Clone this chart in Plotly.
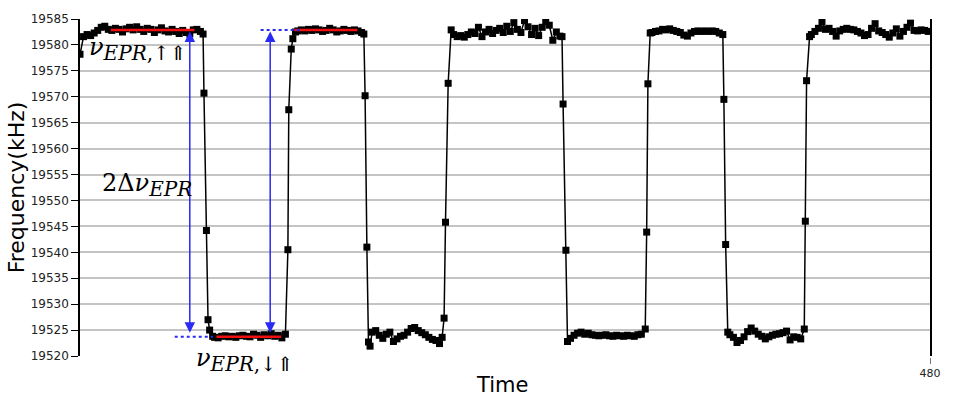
import plotly.graph_objects as go

# ---------------- data (time in samples, frequency in kHz) ----------------
t_high1 = list(range(0, 70, 2))
f_high1 = [19578.2, 19581.6, 19582.0, 19581.8, 19582.3, 19582.8, 19583.4, 19583.6, 19583.0, 19582.8,
           19583.2, 19583.0, 19582.5, 19583.1, 19583.4, 19582.9, 19583.5, 19583.0, 19582.6, 19583.2,
           19583.0, 19582.4, 19582.9, 19583.3, 19582.7, 19582.5, 19583.0, 19582.6, 19582.2, 19582.8,
           19582.4, 19582.1, 19582.9, 19583.0, 19582.6]
t_fall1 = [69.5, 70.0, 71.4, 72.3, 73.2, 74.9]
f_fall1 = [19582.1, 19570.7, 19544.2, 19527.0, 19525.0, 19523.8]
t_low1 = list(range(76, 118, 2))
f_low1 = [19523.6, 19523.5, 19523.8, 19523.9, 19523.7, 19523.8, 19523.6, 19523.9, 19524.0, 19523.8,
          19523.7, 19524.2, 19524.0, 19523.6, 19524.1, 19523.9, 19524.3, 19523.8, 19524.0, 19523.5,
          19524.2]
t_rise1 = [117.4, 117.9, 119.3, 120.2, 121.7]
f_rise1 = [19540.5, 19567.5, 19579.2, 19581.2, 19582.5]
t_high2 = list(range(123, 161, 2))
f_high2 = [19582.7, 19582.9, 19582.7, 19583.0, 19582.8, 19583.1, 19582.9, 19582.6, 19582.8, 19583.2,
           19582.9, 19582.5, 19582.7, 19583.0, 19582.8, 19582.6, 19582.9, 19582.7, 19582.4]
t_fall2 = [160.3, 161.0, 162.0, 162.9, 163.8]
f_fall2 = [19582.1, 19570.2, 19541.0, 19522.7, 19521.9]
t_low2 = list(range(165, 205, 2))
f_low2 = [19524.6, 19524.9, 19524.0, 19523.4, 19524.2, 19524.6, 19522.8, 19523.3, 19523.8, 19524.0,
          19524.6, 19525.3, 19525.5, 19524.9, 19524.5, 19524.1, 19523.6, 19523.2, 19523.0, 19522.4]
t_rise2 = [204.5, 205.6, 206.4, 207.9, 209.6]
f_rise2 = [19523.6, 19527.3, 19545.8, 19572.6, 19582.9]
t_high3 = list(range(211, 273, 2))
f_high3 = [19582.0, 19581.6, 19581.8, 19581.5, 19582.0, 19582.5, 19582.2, 19583.4, 19581.6, 19582.5,
           19583.0, 19582.2, 19582.8, 19583.2, 19582.4, 19583.6, 19582.6, 19584.3, 19583.0, 19582.4,
           19584.7, 19583.5, 19582.0, 19583.2, 19581.8, 19583.4, 19584.5, 19583.8, 19580.9, 19582.5,
           19581.7]
t_fall3 = [272.2, 272.8, 274.4, 275.3]
f_fall3 = [19581.6, 19568.6, 19540.4, 19522.8]
t_low3 = list(range(277, 319, 2))
f_low3 = [19523.4, 19524.0, 19524.4, 19524.6, 19524.2, 19524.4, 19524.1, 19524.0, 19523.9, 19524.0,
          19524.1, 19523.9, 19523.8, 19524.0, 19523.9, 19523.8, 19524.0, 19523.9, 19523.8, 19524.1,
          19524.2]
t_rise3 = [319.2, 320.0, 320.7, 322.0]
f_rise3 = [19525.2, 19543.9, 19572.5, 19582.3]
t_high4 = list(range(323, 363, 2))
f_high4 = [19582.4, 19582.6, 19582.7, 19583.0, 19582.9, 19583.1, 19582.8, 19582.6, 19582.4, 19581.9,
           19581.7, 19582.3, 19582.6, 19582.7, 19582.6, 19582.7, 19582.6, 19582.7, 19582.6, 19582.3]
t_fall4 = [363.0, 363.6, 364.6, 365.8]
f_fall4 = [19582.0, 19569.5, 19541.5, 19524.6]
t_low4 = list(range(367, 409, 2))
f_low4 = [19524.1, 19523.6, 19522.6, 19523.0, 19523.7, 19524.7, 19525.4, 19524.8, 19524.2, 19523.8,
          19523.3, 19523.7, 19524.0, 19524.2, 19524.3, 19524.5, 19524.8, 19523.1, 19523.7, 19523.6,
          19523.3]
t_rise4 = [409.0, 409.6, 410.3, 412.0]
f_rise4 = [19525.2, 19546.0, 19573.1, 19581.6]
t_high5 = list(range(413, 481, 2))
f_high5 = [19582.0, 19582.6, 19583.2, 19584.4, 19583.0, 19583.2, 19582.6, 19581.7, 19582.7, 19583.0,
           19583.2, 19583.0, 19582.9, 19582.6, 19582.3, 19581.8, 19582.0, 19583.2, 19584.1, 19582.7,
           19582.4, 19582.0, 19581.5, 19582.3, 19583.1, 19581.7, 19582.6, 19583.4, 19584.2, 19582.8,
           19582.7, 19582.9, 19582.8, 19582.6]

# fitted levels and annotation spans
level_up = 19582.9
level_down = 19523.7
red_up1_t = [17.3, 64.6]
red_up2_t = [121.0, 156.6]
red_down_t = [77.0, 113.6]
dot_up_t = [102.0, 125.0]
dot_down_t = [53.5, 75.0]
arrow_t = [62.0, 107.4]
arrow_top = 19582.6
arrow_bottom = 19524.2

y_ticks = list(range(19520, 19590, 5))
y_ticktext = [str(v) for v in y_ticks]
x_ticks = [480]
x_ticktext = ["480"]

segments = [(t_high1, f_high1), (t_fall1, f_fall1), (t_low1, f_low1), (t_rise1, f_rise1),
            (t_high2, f_high2), (t_fall2, f_fall2), (t_low2, f_low2), (t_rise2, f_rise2),
            (t_high3, f_high3), (t_fall3, f_fall3), (t_low3, f_low3), (t_rise3, f_rise3),
            (t_high4, f_high4), (t_fall4, f_fall4), (t_low4, f_low4), (t_rise4, f_rise4),
            (t_high5, f_high5)]
time, freq = [], []
for ts, fs in segments:
    assert len(ts) == len(fs), (ts[0], len(ts), len(fs))
    time += list(ts)
    freq += list(fs)

fig = go.Figure()
fig.add_trace(go.Scatter(x=time, y=freq, mode="lines+markers",
                         line=dict(color="black", width=1.5),
                         marker=dict(symbol="square", size=7, color="black"),
                         showlegend=False, hoverinfo="x+y"))

RED = "#ee1010"
BLUE = "#2a2af5"
for span in (red_up1_t, red_up2_t):
    fig.add_trace(go.Scatter(x=span, y=[level_up, level_up], mode="lines",
                             line=dict(color=RED, width=2.5), showlegend=False))
fig.add_trace(go.Scatter(x=red_down_t, y=[level_down, level_down], mode="lines",
                         line=dict(color=RED, width=2.5), showlegend=False))
fig.add_trace(go.Scatter(x=dot_up_t, y=[level_up, level_up], mode="lines",
                         line=dict(color=BLUE, width=2, dash="dot"), showlegend=False))
fig.add_trace(go.Scatter(x=dot_down_t, y=[level_down, level_down], mode="lines",
                         line=dict(color=BLUE, width=2, dash="dot"), showlegend=False))

annotations = []
for xa in arrow_t:
    annotations.append(dict(x=xa, y=arrow_top, ax=xa, ay=arrow_bottom, xref="x", yref="y",
                            axref="x", ayref="y", text="", showarrow=True,
                            arrowhead=2, startarrowhead=2, arrowside="end+start",
                            arrowsize=1.4, startarrowsize=1.4, arrowwidth=1.5,
                            arrowcolor=BLUE, standoff=0, startstandoff=0))

SERIF = "DejaVu Serif, Liberation Serif, serif"
SUB = "<sub><span style='font-size:20px'>{}</span></sub>"
annotations += [
    dict(text="<i>ν</i>" + SUB.format("<i>EPR</i>,↑⇑"), xref="paper", yref="paper",
         x=0.008, y=0.91, xanchor="left", yanchor="middle", showarrow=False,
         font=dict(family=SERIF, size=24, color="black")),
    dict(text="2Δ<i>ν</i>" + SUB.format("<i>EPR</i>"), xref="paper", yref="paper",
         x=0.023, y=0.506, xanchor="left", yanchor="middle", showarrow=False,
         font=dict(family=SERIF, size=24, color="black")),
    dict(text="<i>ν</i>" + SUB.format("<i>EPR</i>,↓⇑"), xref="paper", yref="paper",
         x=0.134, y=-0.012, xanchor="left", yanchor="middle", showarrow=False,
         font=dict(family=SERIF, size=24, color="black")),
    dict(text="Time", xref="paper", yref="paper", x=0.4965, y=-0.085,
         xanchor="center", yanchor="middle", showarrow=False,
         font=dict(family="DejaVu Sans", size=21, color="black")),
]

fig.update_layout(
    width=953, height=403,
    margin=dict(l=80, r=21, t=14, b=47),
    paper_bgcolor="white", plot_bgcolor="white",
    annotations=annotations,
    xaxis=dict(range=[0, 480], tickvals=x_ticks, ticktext=x_ticktext,
               showgrid=False, zeroline=False,
               showline=True, linecolor="white", linewidth=2,
               ticks="outside", ticklen=6, tickcolor="#777", tickwidth=1,
               tickfont=dict(family="DejaVu Sans", size=11, color="#222")),
    yaxis=dict(range=[19520, 19585], tickvals=y_ticks, ticktext=y_ticktext,
               showgrid=True, gridcolor="#c4c4c4", gridwidth=1.5, zeroline=False,
               showline=True, linecolor="black", linewidth=1.5, mirror=True,
               ticks="outside", ticklen=7, tickcolor="black", tickwidth=1,
               tickfont=dict(family="DejaVu Sans", size=12, color="#222"),
               title=dict(text="Frequency(kHz)", standoff=0,
                          font=dict(family="DejaVu Sans", size=22, color="black"))),
)

fig.write_html("out.html")
